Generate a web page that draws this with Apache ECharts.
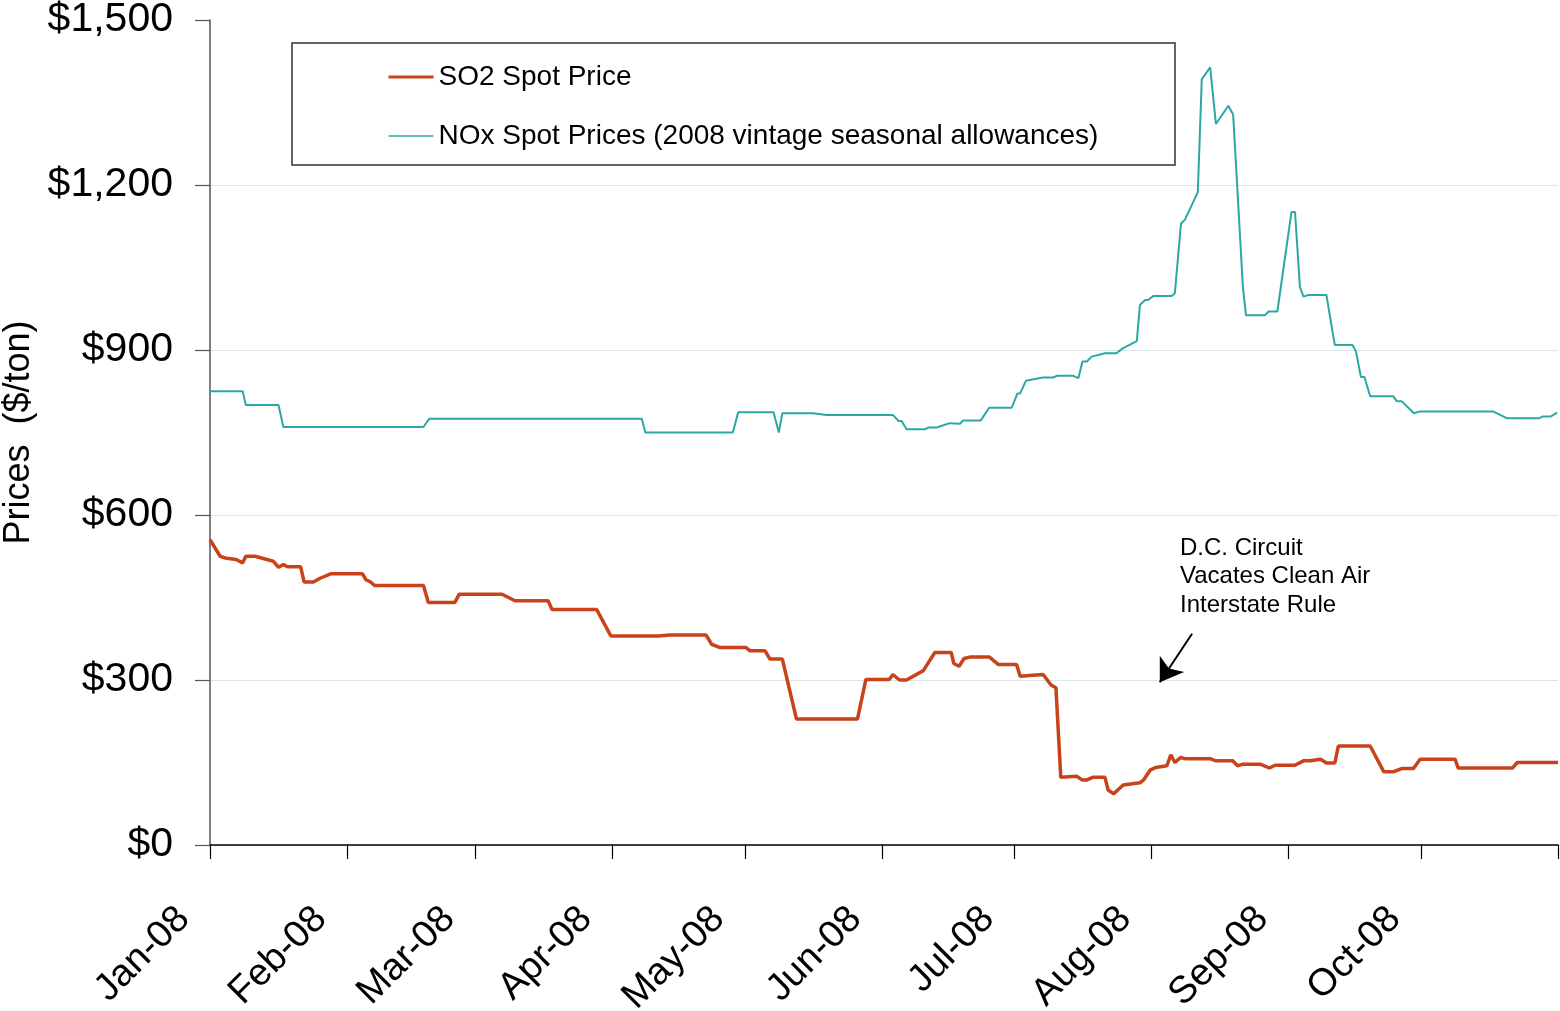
<!DOCTYPE html>
<html>
<head>
<meta charset="utf-8">
<script src="https://cdn.jsdelivr.net/npm/echarts@6/dist/echarts.min.js"></script>
<style>html,body{margin:0;padding:0;background:#fff;}#chart{width:1560px;height:1011px;}</style>
</head>
<body>
<div id="chart"></div>
<script>
// x values are days since 2008-01-01
const monthStartDays = [0, 31, 60, 91, 121, 152, 182, 213, 244, 274, 305];
const monthLabels = ['Jan-08','Feb-08','Mar-08','Apr-08','May-08','Jun-08','Jul-08','Aug-08','Sep-08','Oct-08',''];
const yTicks = [0, 300, 600, 900, 1200, 1500];

const so2Days = [0,2.3,3.4,5.9,7.4,8.1,10.2,14.3,15.5,16.6,17.5,20.5,21.3,23.4,24.9,27.3,34.5,35.3,36.2,37.2,48.3,49.4,55.4,56.4,66.1,69.0,76.5,77.4,87.5,90.7,101.4,104.1,112.2,113.5,115.4,121.3,122.2,125.6,126.7,129.5,132.7,146.5,148.4,153.7,154.5,156.0,157.6,161.4,164.0,167.7,168.3,169.5,170.6,172.1,176.3,178.4,182.5,183.3,188.5,190.3,191.4,192.5,196.1,197.4,198.3,199.7,202.5,203.2,204.5,206.6,210.4,211.3,212.7,214.0,216.5,217.4,218.3,219.6,220.6,226.3,227.6,231.4,232.5,233.7,237.6,239.7,241.0,245.5,247.4,248.9,251.3,252.6,254.5,255.3,262.5,265.6,267.7,269.6,272.3,273.8,281.7,282.4,294.7,295.8,305];
const so2Values = [555,525,522,519,513,525,525,516,505,510,506,506,478,478,485,493,493,482,479,472,472,441,441,456,456,444,444,428,428,380,380,382,382,365,359,359,353,353,338,338,229,229,301,301,310,300,300,317,350,350,330,325,339,342,342,328,328,307,310,291,286,123,125,118,118,123,123,100,93,109,113,119,136,141,144,164,150,159,157,157,153,153,144,147,147,140,145,145,153,153,156,149,149,180,180,133,133,139,139,156,156,140,140,150,150];

const noxDays = [0,7.4,8.1,15.5,16.6,48.3,49.6,97.7,98.5,118.3,119.5,127.5,128.7,129.5,136.5,139.5,154.5,155.8,156.5,157.6,161.8,162.5,164.4,167.4,169.7,170.4,174.4,176.3,181.4,182.7,183.3,184.6,188.5,190.8,191.6,195.3,196.5,197.4,198.4,199.5,202.5,205.1,206.5,209.7,210.4,211.6,212.3,213.4,217.6,218.3,219.7,220.6,223.5,224.4,226.3,227.6,230.4,231.5,233.7,234.4,238.7,239.5,241.5,244.7,245.5,246.6,247.4,248.5,252.6,254.5,258.5,259.3,260.4,261.2,262.5,267.7,268.5,269.6,272.4,273.6,290.4,293.4,300.8,301.5,303.3,304.8];
const noxValues = [825,825,800,800,760,760,775,775,750,750,787,787,750,785,785,782,782,771,771,756,756,759,759,767,766,772,772,795,795,821,821,844,850,850,853,853,849,879,879,888,894,894,903,916,982,991,991,998,998,1003,1130,1137,1187,1392,1414,1311,1344,1328,1015,963,963,970,970,1151,1151,1015,997,1000,1000,909,909,897,851,851,816,816,807,807,785,788,788,776,776,779,779,786];

const seriesNames = ['SO2 Spot Price', 'NOx Spot Prices (2008 vintage seasonal allowances)'];
const seriesColors = ['#C8421A', '#2BA8A5'];
const annotationLines = ['D.C. Circuit', 'Vacates Clean Air', 'Interstate Rule'];
const arrowFrom = [222.2, 384];
const arrowTo = [214.9, 296];

const FONT = '"Liberation Sans", Arial, sans-serif';
const zip = (xs, ys) => xs.map((x, i) => [x, ys[i]]);
const fmtDollar = v => '$' + String(v).replace(/\B(?=(\d{3})+(?!\d))/g, ',');

const chart = echarts.init(document.getElementById('chart'), null, {renderer: 'canvas'});
chart.setOption({
  animation: false,
  backgroundColor: '#ffffff',
  textStyle: {fontFamily: FONT},
  grid: {left: 210, right: 2, top: 20, bottom: 166, containLabel: false, outerBoundsMode: 'none'},
  legend: {
    orient: 'vertical',
    left: 387,
    top: 63,
    padding: 0,
    itemWidth: 45,
    itemHeight: 14,
    itemGap: 31,
    data: [
      {name: seriesNames[0], itemStyle: {opacity: 0}, lineStyle: {width: 3, color: seriesColors[0]}},
      {name: seriesNames[1], itemStyle: {opacity: 0}, lineStyle: {width: 1.5, color: seriesColors[1]}}
    ],
    textStyle: {fontFamily: FONT, fontSize: 28, color: '#000'}
  },
  xAxis: {
    type: 'value',
    min: 0,
    max: 305,
    axisLine: {show: true, onZero: false, lineStyle: {color: '#000', width: 1.5}},
    axisTick: {show: true, customValues: monthStartDays, length: 14, lineStyle: {color: '#000', width: 1.2}},
    axisLabel: {
      customValues: monthStartDays.slice(0, 10),
      formatter: v => monthLabels[monthStartDays.indexOf(v)],
      rotate: 45,
      margin: 42,
      padding: [0, 37, 0, 0],
      fontSize: 38,
      color: '#000',
      fontFamily: FONT
    },
    splitLine: {show: false}
  },
  yAxis: {
    type: 'value',
    min: 0,
    max: 1500,
    interval: 300,
    name: 'Prices  ($/ton)',
    nameLocation: 'middle',
    nameGap: 158,
    nameRotate: 90,
    nameTextStyle: {fontSize: 36, color: '#000', fontFamily: FONT},
    axisLine: {show: true, lineStyle: {color: '#555', width: 1.5}},
    axisTick: {show: true, length: 15, lineStyle: {color: '#555', width: 1.2}},
    axisLabel: {
      customValues: yTicks,
      formatter: fmtDollar,
      fontSize: 41,
      margin: 37,
      color: '#000',
      fontFamily: FONT
    },
    splitLine: {show: true, lineStyle: {color: ['#d9e6e8','#d9e6e8','#d9e6e8','#d9e6e8','#d9e6e8','rgba(0,0,0,0)'], width: 1}}
  },
  series: [
    {
      name: seriesNames[0],
      type: 'line',
      data: zip(so2Days, so2Values),
      symbol: 'none',
      showSymbol: false,
      lineStyle: {color: seriesColors[0], width: 3.5},
      itemStyle: {color: seriesColors[0]},
      z: 3,
      markLine: {
        silent: true,
        symbol: ['none', 'arrow'],
        symbolSize: 22,
        label: {show: false},
        lineStyle: {color: '#000', width: 2, type: 'solid'},
        data: [[{coord: arrowFrom}, {coord: arrowTo}]]
      }
    },
    {
      name: seriesNames[1],
      type: 'line',
      data: zip(noxDays, noxValues),
      symbol: 'none',
      showSymbol: false,
      lineStyle: {color: seriesColors[1], width: 2},
      itemStyle: {color: seriesColors[1]},
      z: 2
    }
  ],
  graphic: [
    {
      type: 'rect',
      shape: {x: 292, y: 43, width: 883, height: 122},
      style: {fill: 'none', stroke: '#333', lineWidth: 1.5},
      silent: true
    },
    {
      type: 'text',
      left: 1180, top: 534,
      style: {
        text: annotationLines.join('\n'),
        font: '24px ' + FONT,
        lineHeight: 28.5,
        fill: '#000'
      },
      silent: true
    }
  ]
});
</script>
</body>
</html>
